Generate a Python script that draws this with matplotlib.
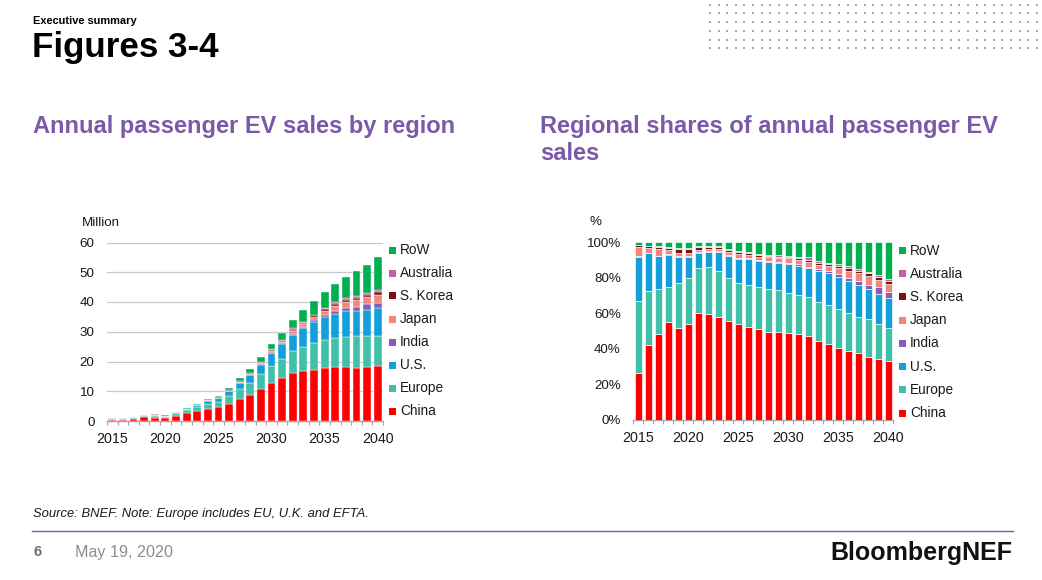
import numpy as np
import matplotlib
matplotlib.use("Agg")
import matplotlib.pyplot as plt
from matplotlib.patches import Rectangle

plt.rcParams['font.family'] = ['Liberation Sans', 'DejaVu Sans']

years = list(range(2015, 2041))
regions = ["China", "Europe", "U.S.", "India", "Japan", "S. Korea", "Australia", "RoW"]
colors = ["#ff0000", "#40bfa9", "#129fdc", "#8a5cb8", "#f5857b", "#7a1313", "#c25fa9", "#00b050"]

# Annual passenger EV sales (million)
china     = [0.25, 0.45, 0.72, 1.20, 1.16, 1.00, 1.80, 2.57, 3.25, 4.07, 4.54, 5.78, 7.35, 8.65, 10.64, 12.69, 14.37, 15.98, 16.67, 17.29, 17.70, 18.02, 18.19, 17.91, 18.15, 18.44]
europe    = [0.38, 0.33, 0.38, 0.43, 0.57, 0.48, 0.76, 1.13, 1.46, 1.75, 1.93, 2.56, 3.36, 4.14, 5.05, 5.85, 6.53, 7.48, 8.17, 8.85, 9.48, 9.79, 10.04, 10.66, 10.26, 10.27]
us        = [0.24, 0.24, 0.28, 0.39, 0.34, 0.23, 0.26, 0.37, 0.58, 0.93, 1.14, 1.61, 2.12, 2.68, 3.27, 4.24, 4.84, 5.58, 6.45, 7.23, 7.74, 8.22, 8.63, 8.50, 8.99, 9.11]
india     = [0.00, 0.00, 0.00, 0.01, 0.01, 0.01, 0.01, 0.01, 0.03, 0.04, 0.03, 0.07, 0.09, 0.12, 0.17, 0.23, 0.33, 0.31, 0.41, 0.57, 0.74, 0.92, 0.97, 1.16, 1.89, 1.93]
japan     = [0.05, 0.03, 0.05, 0.05, 0.04, 0.03, 0.04, 0.04, 0.06, 0.11, 0.21, 0.22, 0.24, 0.33, 0.43, 0.65, 0.65, 0.92, 0.93, 1.05, 1.44, 1.85, 2.18, 2.52, 2.26, 2.54]
skorea    = [0.01, 0.01, 0.02, 0.03, 0.06, 0.05, 0.05, 0.06, 0.08, 0.07, 0.08, 0.11, 0.14, 0.14, 0.22, 0.26, 0.30, 0.34, 0.41, 0.57, 0.65, 0.69, 0.73, 0.75, 0.79, 1.05]
australia = [0.00, 0.00, 0.00, 0.00, 0.01, 0.01, 0.02, 0.02, 0.03, 0.04, 0.04, 0.09, 0.09, 0.12, 0.22, 0.13, 0.24, 0.51, 0.34, 0.20, 0.35, 0.46, 0.49, 0.50, 0.53, 0.55]
row       = [0.02, 0.02, 0.03, 0.06, 0.07, 0.06, 0.06, 0.09, 0.11, 0.29, 0.42, 0.57, 0.92, 1.22, 1.50, 1.95, 2.44, 2.89, 3.92, 4.65, 5.39, 6.24, 7.28, 8.30, 9.73, 11.32]

# Regional shares of annual passenger EV sales (%)
china_pct     = [26.5, 42.0, 48.4, 55.3, 51.6, 54.0, 60.0, 59.7, 58.0, 55.7, 54.0, 52.5, 51.4, 49.7, 49.5, 48.8, 48.4, 47.0, 44.7, 42.8, 40.7, 39.0, 37.5, 35.6, 34.5, 33.4]
europe_pct    = [40.5, 30.6, 25.6, 19.7, 25.4, 26.0, 25.4, 26.3, 26.0, 24.0, 23.0, 23.3, 23.5, 23.8, 23.5, 22.5, 22.0, 22.0, 21.9, 21.9, 21.8, 21.2, 20.7, 21.2, 19.5, 18.6]
us_pct        = [25.0, 21.4, 18.3, 18.0, 15.0, 12.0, 8.6, 8.7, 10.4, 12.8, 13.6, 14.6, 14.8, 15.4, 15.2, 16.3, 16.3, 16.4, 17.3, 17.9, 17.8, 17.8, 17.8, 16.9, 17.1, 16.5]
india_pct     = [0.2, 0.1, 0.2, 0.3, 0.3, 0.3, 0.3, 0.3, 0.6, 0.5, 0.4, 0.6, 0.6, 0.7, 0.8, 0.9, 1.1, 0.9, 1.1, 1.4, 1.7, 2.0, 2.0, 2.3, 3.6, 3.5]
japan_pct     = [5.3, 2.9, 3.5, 2.2, 1.7, 1.7, 1.2, 1.0, 1.0, 1.5, 2.5, 2.0, 1.7, 1.9, 2.0, 2.5, 2.2, 2.7, 2.5, 2.6, 3.3, 4.0, 4.5, 5.0, 4.3, 4.6]
skorea_pct    = [0.8, 1.0, 1.5, 1.5, 2.5, 2.5, 1.8, 1.5, 1.5, 1.0, 1.0, 1.0, 1.0, 0.8, 1.0, 1.0, 1.0, 1.0, 1.1, 1.4, 1.5, 1.5, 1.5, 1.5, 1.5, 1.9]
australia_pct = [0.2, 0.1, 0.2, 0.2, 0.3, 0.3, 0.7, 0.5, 0.5, 0.5, 0.5, 0.8, 0.6, 0.7, 1.0, 0.5, 0.8, 1.5, 0.9, 0.5, 0.8, 1.0, 1.0, 1.0, 1.0, 1.0]
row_pct       = [1.5, 1.9, 2.3, 2.8, 3.2, 3.2, 2.0, 2.0, 2.0, 4.0, 5.0, 5.2, 6.4, 7.0, 7.0, 7.5, 8.2, 8.5, 10.5, 11.5, 12.4, 13.5, 15.0, 16.5, 18.5, 20.5]

abs_series = [china, europe, us, india, japan, skorea, australia, row]
pct_series = [china_pct, europe_pct, us_pct, india_pct, japan_pct, skorea_pct, australia_pct, row_pct]

W, H = 1042, 580
fig = plt.figure(figsize=(W / 100, H / 100), dpi=100)
fig.patch.set_facecolor("white")

def fx(px):
    return px / W

def fy(py):
    return 1 - py / H

purple = "#7a5aa8"
tick_col = "#1a1a1a"

# ---- header ----
fig.text(fx(33), fy(21), "Executive summary", fontsize=7.9, fontweight="bold", va="center", ha="left")
fig.text(fx(32), fy(47), "Figures 3-4", fontsize=25.2, fontweight="bold", va="center", ha="left")

# dot pattern top-right
dot_ax = fig.add_axes([0, 0, 1, 1], facecolor="none")
dot_ax.set_xlim(0, W)
dot_ax.set_ylim(H, 0)
dot_ax.axis("off")
dx = np.arange(710, 1040, 8.6)
dy = [4.7, 13.4, 22.1, 30.8, 39.5, 48.2]
xs, ys = np.meshgrid(dx, dy)
dot_ax.scatter(xs.ravel(), ys.ravel(), s=2.2, marker="s", color="#a8a8a8", linewidths=0)

# ---- titles ----
fig.text(fx(33), fy(126), "Annual passenger EV sales by region", fontsize=17,
         fontweight="bold", color=purple, va="center", ha="left")
fig.text(fx(540), fy(140), "Regional shares of annual passenger EV\nsales", fontsize=17,
         fontweight="bold", color=purple, va="center", ha="left", linespacing=1.17)

x = np.arange(len(years))

def style_axis(ax):
    for s in ["top", "right", "left"]:
        ax.spines[s].set_visible(False)
    ax.spines["bottom"].set_color("#a6a6a6")
    ax.spines["bottom"].set_linewidth(1.0)
    ax.set_xlim(-0.5, len(years) - 0.5)
    ax.set_xticks([i for i, yv in enumerate(years) if yv % 5 == 0])
    ax.set_xticklabels([str(yv) for yv in years if yv % 5 == 0])
    ax.set_xticks(np.arange(-0.5, len(years), 1), minor=True)
    ax.tick_params(axis="x", which="major", length=0, pad=8, labelsize=10.3, colors=tick_col)
    ax.tick_params(axis="x", which="minor", length=3, color="#a6a6a6", width=0.8)
    ax.tick_params(axis="y", length=0, pad=9, labelsize=9.6, colors=tick_col)

# ---- left chart ----
axL = fig.add_axes([fx(107), fy(421), fx(383) - fx(107), fy(242.5) - fy(421)])
bottom = np.zeros(len(years))
for vals, col in zip(abs_series, colors):
    axL.bar(x, vals, bottom=bottom, width=0.74, color=col, edgecolor="white", linewidth=0.3, zorder=3)
    bottom += np.array(vals)
axL.set_ylim(0, 60)
axL.set_yticks(range(0, 61, 10))
axL.yaxis.grid(True, color="#c8c8c8", linewidth=0.9, zorder=0)
style_axis(axL)
fig.text(fx(82), fy(223), "Million", fontsize=9.6, va="center", ha="left", color=tick_col)

# ---- right chart ----
axR = fig.add_axes([fx(633.3), fy(420), fx(893.3) - fx(633.3), fy(242.3) - fy(420)])
bottom = np.zeros(len(years))
for vals, col in zip(pct_series, colors):
    axR.bar(x, vals, bottom=bottom, width=0.68, color=col, edgecolor="white", linewidth=0.45, zorder=3)
    bottom += np.array(vals)
axR.set_ylim(0, 100)
axR.set_yticks(range(0, 101, 20))
axR.set_yticklabels([f"{v}%" for v in range(0, 101, 20)])
style_axis(axR)
fig.text(fx(590), fy(222), "%", fontsize=9.6, va="center", ha="left", color=tick_col)

# ---- legends (manual, top = RoW) ----
def draw_legend(mx, tx, ys_pos):
    for name, col, yy in zip(regions[::-1], colors[::-1], ys_pos):
        fig.patches.append(Rectangle((fx(mx - 3.5), fy(yy + 3.5)), fx(7), 7 / H,
                                     transform=fig.transFigure, facecolor=col, edgecolor="none"))
        fig.text(fx(tx), fy(yy), name, fontsize=9.8, va="center", ha="left", color=tick_col)

draw_legend(392, 400, np.linspace(250, 411, 8))
draw_legend(902, 910, np.linspace(250.5, 413, 8))

# ---- footer ----
fig.text(fx(33), fy(514), "Source: BNEF. Note: Europe includes EU, U.K. and EFTA.", fontsize=9.4,
         style="italic", va="center", ha="left", color="#1a1a1a")
fig.add_artist(plt.Line2D([fx(32), fx(1013)], [fy(531), fy(531)], color=purple, linewidth=1.0,
                          transform=fig.transFigure))
fig.text(fx(33), fy(552), "6", fontsize=10.5, fontweight="bold", va="center", ha="left", color="#6f6f6f")
fig.text(fx(75), fy(552), "May 19, 2020", fontsize=11.6, va="center", ha="left", color="#8c8c8c")
fig.text(fx(1012), fy(553), "BloombergNEF", fontsize=18, fontweight="bold", va="center", ha="right",
         color="#111111")

fig.savefig("out.png", dpi=100)
